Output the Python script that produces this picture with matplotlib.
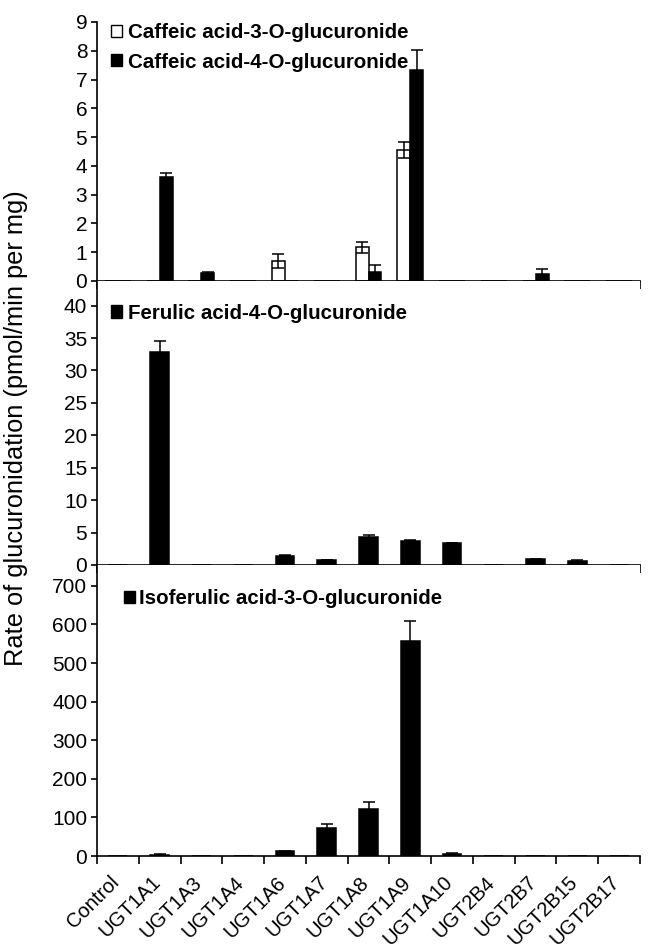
import matplotlib
matplotlib.use("Agg")
import matplotlib.pyplot as plt
import matplotlib.transforms as mtransforms
import numpy as np
from matplotlib.patches import Patch

plt.rcParams['font.family'] = ['Liberation Sans', 'DejaVu Sans']

categories = ["Control", "UGT1A1", "UGT1A3", "UGT1A4", "UGT1A6", "UGT1A7",
              "UGT1A8", "UGT1A9", "UGT1A10", "UGT2B4", "UGT2B7", "UGT2B15", "UGT2B17"]

caffeic3 = [0, 0, 0, 0, 0.70, 0, 1.17, 4.55, 0, 0, 0, 0, 0]
caffeic3_err = [0, 0, 0, 0, 0.25, 0, 0.20, 0.27, 0, 0, 0, 0, 0]
caffeic4 = [0, 3.60, 0.28, 0, 0, 0, 0.32, 7.32, 0, 0, 0.23, 0, 0]
caffeic4_err = [0, 0.16, 0.05, 0, 0, 0, 0.22, 0.71, 0, 0, 0.18, 0, 0]

ferulic4 = [0, 32.9, 0, 0, 1.45, 0.75, 4.25, 3.75, 3.4, 0, 0.9, 0.55, 0]
ferulic4_err = [0, 1.7, 0, 0, 0.1, 0.05, 0.3, 0.1, 0.05, 0, 0.1, 0.15, 0]

isoferulic3 = [0, 3, 0, 0, 12, 73, 123, 558, 6, 0, 0, 0, 0]
isoferulic3_err = [0, 1, 0, 0, 2, 9, 16, 50, 3, 0, 0, 0, 0]

ylabel = "Rate of glucuronidation (pmol/min per mg)"

W, H = 651, 951
fig = plt.figure(figsize=(W / 100, H / 100), dpi=100)

left_px, right_px = 97, 640
def rect(top_px, bot_px):
    return [left_px / W, 1 - bot_px / H, (right_px - left_px) / W, (bot_px - top_px) / H]

ax1 = fig.add_axes(rect(22, 281))
ax2 = fig.add_axes(rect(281, 565))
ax3 = fig.add_axes(rect(565, 856))

x = np.arange(len(categories))
LEG_PROP = {'size': 14.8, 'weight': 'bold'}

def style(ax, yticks, ylim, show_labels=False):
    ax.set_xlim(-0.5, len(categories) - 0.5)
    ax.set_ylim(*ylim)
    ax.set_yticks(yticks)
    ax.spines['top'].set_visible(False)
    ax.spines['right'].set_visible(False)
    for s in ['left', 'bottom']:
        ax.spines[s].set_linewidth(1.2)
    ax.tick_params(axis='y', direction='out', length=4, width=1.2, labelsize=15, pad=3)
    ax.set_xticks(np.arange(-0.5, len(categories)), minor=True)
    ax.tick_params(axis='x', which='minor', direction='out', length=6, width=1.2)
    ax.set_xticks(x)
    ax.tick_params(axis='x', which='major', length=0, pad=12)
    if show_labels:
        ax.set_xticklabels(categories, rotation=45, ha='right', rotation_mode='anchor',
                           fontsize=14.5)
        off = mtransforms.ScaledTranslation(-9 / 100, 0, fig.dpi_scale_trans)
        for lab in ax.get_xticklabels():
            lab.set_transform(lab.get_transform() + off)
    else:
        ax.set_xticklabels([])

def err_bars(ax, xs, vals, errs):
    xs = np.asarray(xs, float); vals = np.asarray(vals, float); errs = np.asarray(errs, float)
    m = errs > 0
    ax.errorbar(xs[m], vals[m], yerr=errs[m], fmt='none', ecolor='black',
                elinewidth=1.1, capsize=4, capthick=1.1, zorder=3)

# Panel 1
w1 = 0.31
ax1.bar(x - w1 / 2, caffeic3, w1, color='white', edgecolor='black', linewidth=1.1, zorder=2)
ax1.bar(x + w1 / 2, caffeic4, w1, color='black', edgecolor='black', linewidth=1.1, zorder=2)
err_bars(ax1, x - w1 / 2, caffeic3, caffeic3_err)
err_bars(ax1, x + w1 / 2, caffeic4, caffeic4_err)
style(ax1, np.arange(0, 10, 1), (0, 9))
ax1.legend(handles=[Patch(facecolor='white', edgecolor='black', linewidth=1.0),
                    Patch(facecolor='black', edgecolor='black')],
           labels=["Caffeic acid-3-O-glucuronide", "Caffeic acid-4-O-glucuronide"],
           loc='upper left', bbox_to_anchor=(0.025, 0.995), frameon=False,
           handlelength=0.55, handleheight=0.55, handletextpad=0.3, labelspacing=0.5,
           borderpad=0, borderaxespad=0, prop=LEG_PROP)

# Panel 2
w2 = 0.45
ax2.bar(x, ferulic4, w2, color='black', edgecolor='black', linewidth=1.1, zorder=2)
err_bars(ax2, x, ferulic4, ferulic4_err)
style(ax2, np.arange(0, 45, 5), (0, 43.8))
ax2.legend(handles=[Patch(facecolor='black', edgecolor='black')],
           labels=["Ferulic acid-4-O-glucuronide"],
           loc='upper left', bbox_to_anchor=(0.025, 0.92), frameon=False,
           handlelength=0.55, handleheight=0.55, handletextpad=0.3,
           borderpad=0, borderaxespad=0, prop=LEG_PROP)

# Panel 3
ax3.bar(x, isoferulic3, w2, color='black', edgecolor='black', linewidth=1.1, zorder=2)
err_bars(ax3, x, isoferulic3, isoferulic3_err)
style(ax3, np.arange(0, 800, 100), (0, 754), show_labels=True)
ax3.legend(handles=[Patch(facecolor='black', edgecolor='black')],
           labels=["Isoferulic acid-3-O-glucuronide"],
           loc='upper left', bbox_to_anchor=(0.05, 0.916), frameon=False,
           handlelength=0.55, handleheight=0.55, handletextpad=0.15,
           borderpad=0, borderaxespad=0, prop=LEG_PROP)

fig.text(16 / W, 1 - 428 / H, ylabel, rotation=90, ha='center', va='center', fontsize=18.3)

fig.savefig("out.png", dpi=100)
